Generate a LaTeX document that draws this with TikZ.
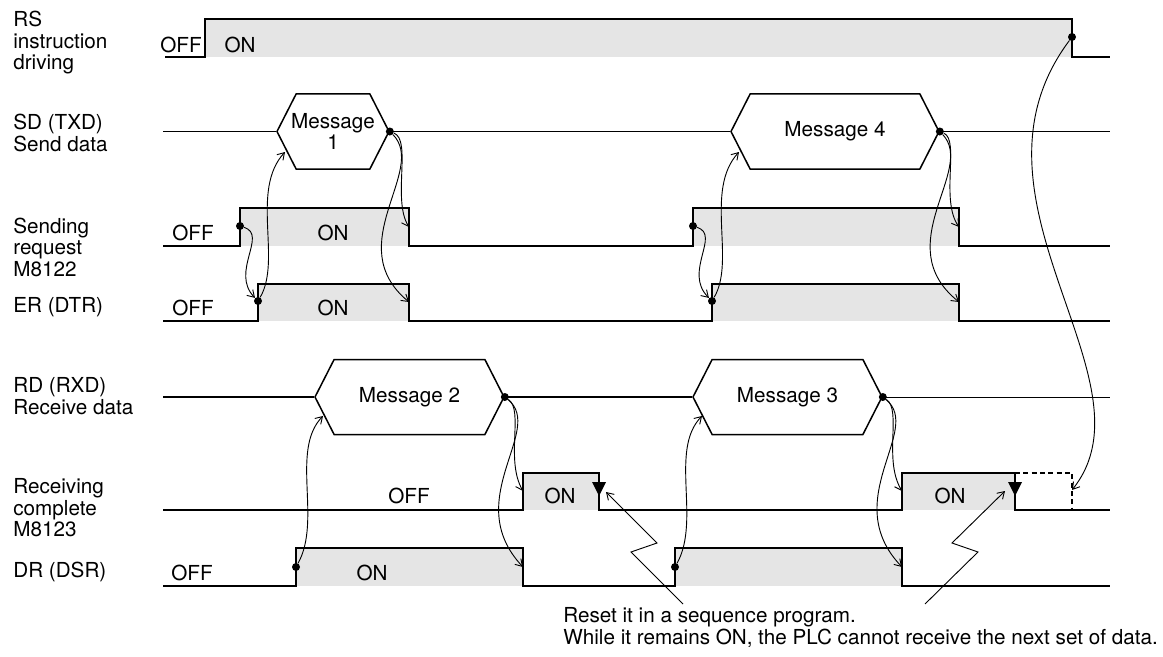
\documentclass[tikz,border=0pt]{standalone}
\usepackage{fontspec}
\setmainfont{TeX Gyre Heros}
\usetikzlibrary{arrows.meta,shapes.symbols}
\definecolor{pulse}{HTML}{E5E5E5}

\begin{document}
\begin{tikzpicture}[
    x=0.6pt, y=-0.6pt,
    font=\fontsize{12.4}{12.9}\selectfont,
    sig/.style={line width=1.1pt, line join=miter},
    thinsig/.style={line width=0.6pt},
    hi/.style={fill=pulse},
    msg/.style={draw, line width=0.9pt, fill=white, signal, signal to=east and west, signal pointer angle=126, minimum height=45pt, align=center, inner sep=1pt},
    flow/.style={line width=0.55pt, -{Straight Barb[length=4pt,width=5pt]}},
    rowlbl/.style={anchor=west, align=left, inner sep=0pt},
    lvl/.style={inner sep=0pt},
    dot/.style={circle, fill, inner sep=0pt, minimum size=4.8pt},
    reset/.style={line width=0.55pt, -{Straight Barb[length=4pt,width=5pt]}}
]
\useasboundingbox (0,0) rectangle (1163,657);

% row labels
\node[rowlbl] (lRS) at (13,43)  {RS\\instruction\\driving};
\node[rowlbl] (lSD) at (13,133) {SD (TXD)\\Send data};
\node[rowlbl] (lSR) at (13,247) {Sending\\request\\M8122};
\node[rowlbl] (lER) at (13,307) {ER (DTR)};
\node[rowlbl] (lRD) at (13,396) {RD (RXD)\\Receive data};
\node[rowlbl] (lRC) at (13,508) {Receiving\\complete\\M8123};
\node[rowlbl] (lDR) at (13,572) {DR (DSR)};

% RS instruction driving
\fill[hi] (205,19) rectangle (1072,57);
\draw[sig] (165,57) -- (205,57) -- (205,19) -- (1072,19) -- (1072,57) -- (1110,57);
\node[lvl] (rsOff) at (181,45) {OFF};
\node[lvl] (rsOn)  at (240,45) {ON};
\node[dot] (rsF) at (1072,37) {};

% SD send data
\node[msg, minimum width=67.2pt, inner xsep=-3.5pt] (m1) at (333,131.5) {Message\\1};
\node[msg, minimum width=124.8pt] (m4) at (835,131.5) {Message 4};
\draw[sig] (163,131.5) -- (m1.west);
\draw[sig] (m1.east) -- (m4.west);
\draw[thinsig] (m4.east) -- (1110,131.5);
\node[dot] (m1d) at (m1.east) {};
\node[dot] (m4d) at (m4.east) {};
\coordinate (m1in) at (285,152);
\coordinate (m4in) at (739,152);

% sending request
\fill[hi] (240,208) rectangle (409,246);
\fill[hi] (693,208) rectangle (959,246);
\draw[sig] (163,246) -- (240,246) -- (240,208) -- (409,208) -- (409,246) -- (693,246) -- (693,208) -- (959,208) -- (959,246) -- (1110,246);
\node[lvl] (srOff) at (193,233) {OFF};
\node[lvl] (srOn)  at (333,233) {ON};
\node[dot] (sr1) at (240,226) {};
\node[dot] (sr2) at (693,226) {};
\coordinate (sr1f) at (409,227);
\coordinate (sr2f) at (959,227);

% ER
\fill[hi] (258,284) rectangle (409,321);
\fill[hi] (712,284) rectangle (959,321);
\draw[sig] (163,321) -- (258,321) -- (258,284) -- (409,284) -- (409,321) -- (712,321) -- (712,284) -- (959,284) -- (959,321) -- (1110,321);
\node[lvl] (erOff) at (193,308) {OFF};
\node[lvl] (erOn)  at (333,308) {ON};
\node[dot] (er1) at (258,301) {};
\node[dot] (er2) at (712,301) {};
\coordinate (er1f) at (409,302);
\coordinate (er2f) at (959,302);

% RD receive data
\node[msg, minimum width=113.4pt] (m2) at (409.5,397) {Message 2};
\node[msg, minimum width=113.4pt] (m3) at (787.5,397) {Message 3};
\draw[sig] (163,397) -- (m2.west);
\draw[sig] (m2.east) -- (m3.west);
\draw[thinsig] (m3.east) -- (1110,397);
\node[dot] (m2d) at (m2.east) {};
\node[dot] (m3d) at (m3.east) {};
\coordinate (m2in) at (323,416);
\coordinate (m3in) at (702,416);

% receiving complete
\fill[hi] (523,473) rectangle (599,510);
\fill[hi] (902,473) rectangle (1015,510);
\draw[sig] (163,510) -- (523,510) -- (523,473) -- (599,473) -- (599,510) -- (902,510) -- (902,473) -- (1015,473) -- (1015,510) -- (1110,510);
\draw[line width=0.8pt, dash pattern=on 3pt off 2pt] (1015,473) -- (1072,473) -- (1072,510);
\node[lvl] (rcOff) at (409,496) {OFF};
\node[lvl] (rcOn1) at (560,496) {ON};
\node[lvl] (rcOn2) at (950,496) {ON};
\coordinate (rc1) at (523,491);
\coordinate (rc2) at (902,491);
\coordinate (rcD) at (1072,490);
\fill (599,496) -- (592,482) -- (606,482) -- cycle;
\fill (1015,496) -- (1008,482) -- (1022,482) -- cycle;
\coordinate (rt1) at (606,492);
\coordinate (rt2) at (1005,491);

% DR
\fill[hi] (296,548) rectangle (523,586);
\fill[hi] (675,548) rectangle (902,586);
\draw[sig] (163,586) -- (296,586) -- (296,548) -- (523,548) -- (523,586) -- (675,586) -- (675,548) -- (902,548) -- (902,586) -- (1110,586);
\node[lvl] (drOff) at (192,573) {OFF};
\node[lvl] (drOn)  at (372,573) {ON};
\node[dot] (dr1) at (296,567) {};
\node[dot] (dr2) at (675,567) {};
\coordinate (dr1f) at (523,567);
\coordinate (dr2f) at (902,567);

% timing arrows
\draw[flow] (sr1) .. controls (268,235) and (230,272) .. (er1);
\draw[flow] (er1) .. controls (282,260) and (250,190) .. (m1in);
\draw[flow] (m1d) .. controls (412,140) and (392,200) .. (sr1f);
\draw[flow] (m1d) .. controls (428,170) and (340,245) .. (er1f);

\draw[flow] (sr2) .. controls (721,235) and (683,272) .. (er2);
\draw[flow] (er2) .. controls (736,260) and (704,190) .. (m4in);
\draw[flow] (m4d) .. controls (960,140) and (940,200) .. (sr2f);
\draw[flow] (m4d) .. controls (976,170) and (888,245) .. (er2f);

\draw[flow] (dr1) .. controls (322,520) and (290,450) .. (m2in);
\draw[flow] (m2d) .. controls (524,410) and (505,460) .. (rc1);
\draw[flow] (m2d) .. controls (545,430) and (460,500) .. (dr1f);

\draw[flow] (dr2) .. controls (701,520) and (669,450) .. (m3in);
\draw[flow] (m3d) .. controls (902,410) and (883,460) .. (rc2);
\draw[flow] (m3d) .. controls (923,430) and (838,500) .. (dr2f);

\draw[flow] (rsF) .. controls (950,200) and (1160,380) .. (rcD);

% reset note
\coordinate (n1) at (683,604);
\coordinate (n2) at (925,604);
\draw[reset] (n1) -- (631,552) -- (657,543) -- (rt1);
\draw[reset] (n2) -- (978,552) -- (952,543) -- (rt2);
\node[anchor=west, align=left, inner sep=0pt] (note) at (563,627.5)
  {Reset it in a sequence program.\\While it remains ON, the PLC cannot receive the next set of data.};
\end{tikzpicture}
\end{document}
